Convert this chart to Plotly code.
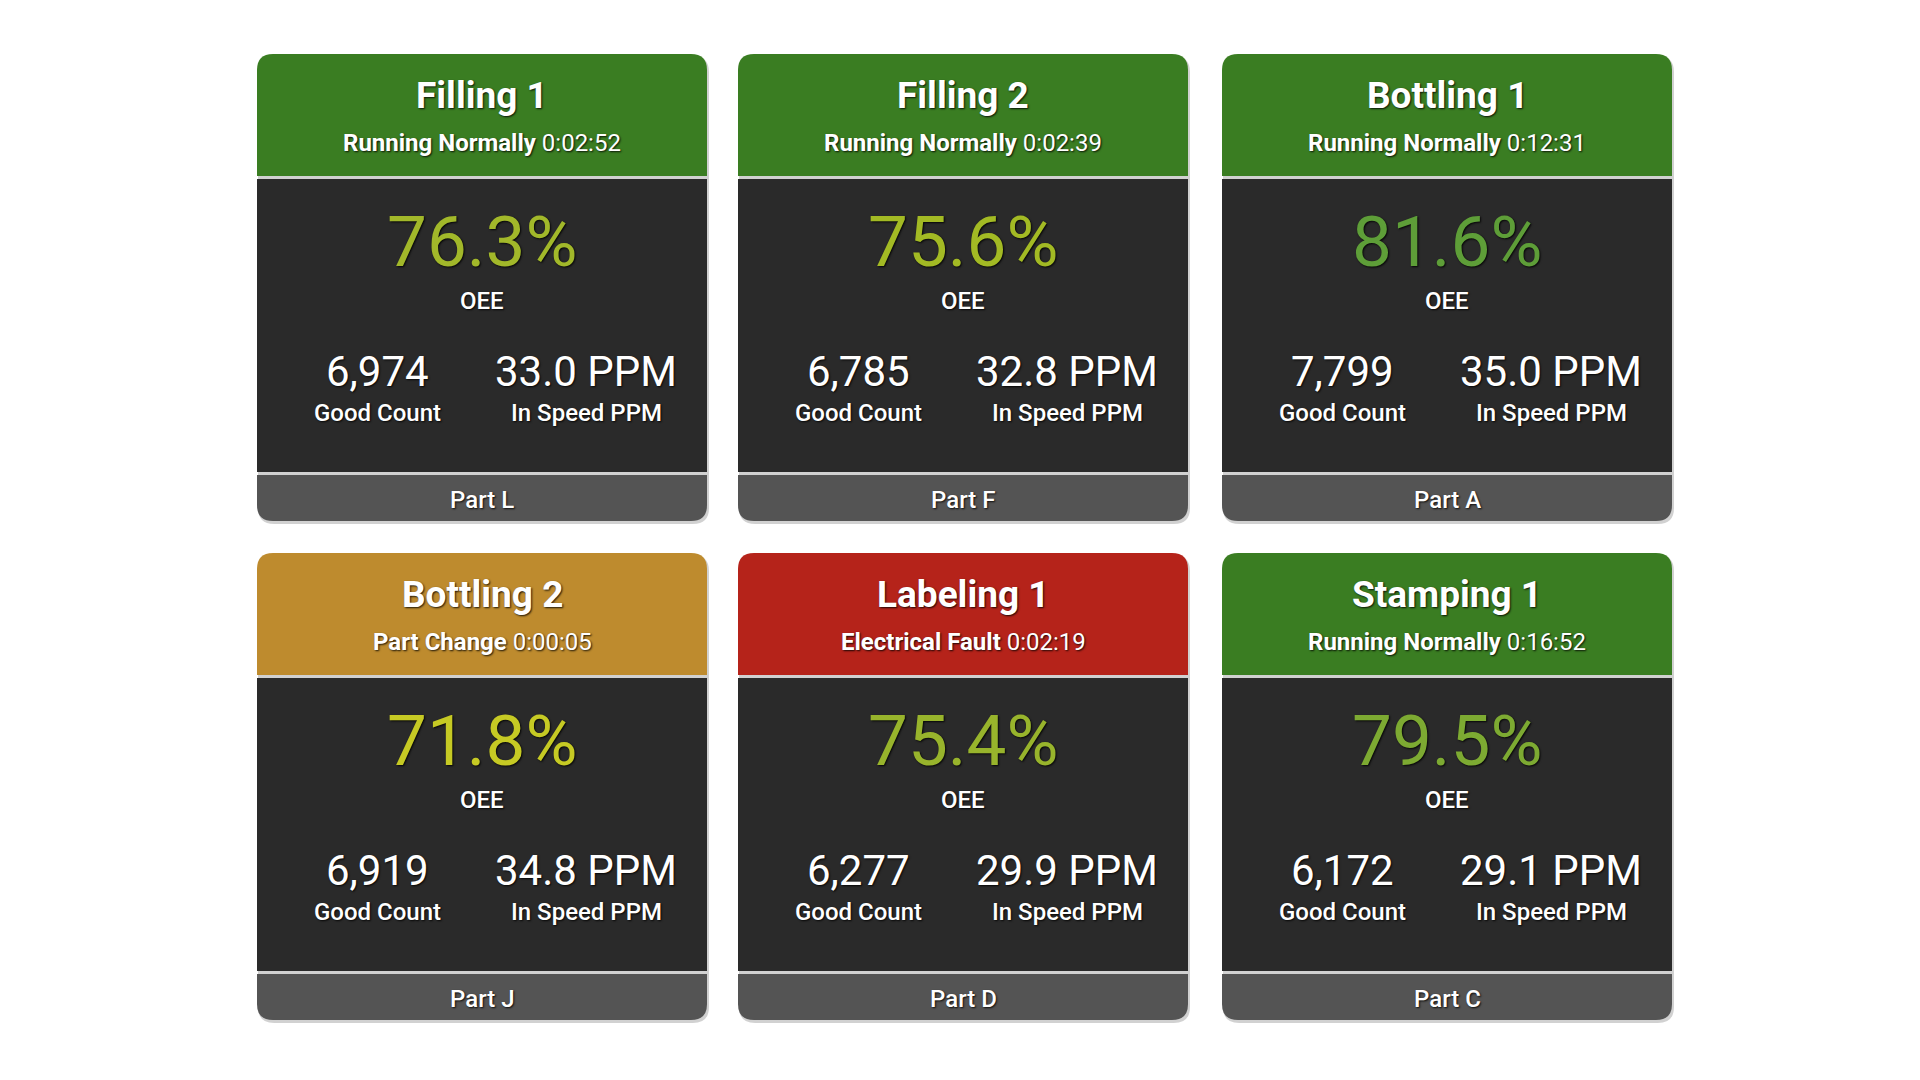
import plotly.graph_objects as go

# ---- data ----
machines = ["Filling 1", "Filling 2", "Bottling 1", "Bottling 2", "Labeling 1", "Stamping 1"]
statuses = ["Running Normally", "Running Normally", "Running Normally",
            "Part Change", "Electrical Fault", "Running Normally"]
durations = ["0:02:52", "0:02:39", "0:12:31", "0:00:05", "0:02:19", "0:16:52"]
oee_pct = [76.3, 75.6, 81.6, 71.8, 75.4, 79.5]
good_counts = [6974, 6785, 7799, 6919, 6277, 6172]
in_speed_ppm = [33.0, 32.8, 35.0, 34.8, 29.9, 29.1]
parts = ["L", "F", "A", "J", "D", "C"]
oee_colors = ["#A2B82A", "#A3BA24", "#5E9E38", "#C6CA24", "#98B42C", "#7DAA32"]

status_colors = {
    "Running Normally": "#3A7D22",
    "Part Change": "#BE8B2E",
    "Electrical Fault": "#B5231A",
}

# ---- layout geometry ----
W, H = 1920, 1080
PAGE_OFFSET = 8  # default body margin of the html page
col_x0 = [257, 738, 1222]
row_y0 = [54, 553]
card_w = 450
header_h = 122
gap = 3
footer_top = 421
card_h = 467
r = 16

BODY = "#2A2A2A"
FOOTER = "#545454"
FONT = "Roboto"
SHADOW = "1px 1px 2px rgba(0,0,0,0.85)"

fig = go.Figure()
shapes = []
annotations = []


def top_round(x0, y0, x1, y1, rad):
    return (f"M {x0},{y1} L {x0},{y0+rad} Q {x0},{y0} {x0+rad},{y0} "
            f"L {x1-rad},{y0} Q {x1},{y0} {x1},{y0+rad} L {x1},{y1} Z")


def bottom_round(x0, y0, x1, y1, rad):
    return (f"M {x0},{y0} L {x1},{y0} L {x1},{y1-rad} Q {x1},{y1} {x1-rad},{y1} "
            f"L {x0+rad},{y1} Q {x0},{y1} {x0},{y1-rad} Z")


def full_round(x0, y0, x1, y1, rad):
    return (f"M {x0+rad},{y0} L {x1-rad},{y0} Q {x1},{y0} {x1},{y0+rad} "
            f"L {x1},{y1-rad} Q {x1},{y1} {x1-rad},{y1} L {x0+rad},{y1} "
            f"Q {x0},{y1} {x0},{y1-rad} L {x0},{y0+rad} Q {x0},{y0} {x0+rad},{y0} Z")


def add_text(x, y, text, size, color="white", weight="normal"):
    annotations.append(dict(
        x=x, y=y, xref="x", yref="y", text=text, showarrow=False,
        xanchor="center", yanchor="middle",
        font=dict(family=FONT, size=size, color=color, weight=weight, shadow=SHADOW),
    ))


for i, name in enumerate(machines):
    x0 = col_x0[i % 3]
    y0 = row_y0[i // 3]
    x1 = x0 + card_w
    cx = x0 + card_w / 2

    # soft shadow
    shapes.append(dict(type="path", xref="x", yref="y", layer="below",
                       path=full_round(x0 + 1, y0 + 2, x1 + 2, y0 + card_h + 3, r),
                       fillcolor="rgba(0,0,0,0.18)", line=dict(width=0)))
    # header
    shapes.append(dict(type="path", xref="x", yref="y", layer="below",
                       path=top_round(x0, y0, x1, y0 + header_h, r),
                       fillcolor=status_colors[statuses[i]], line=dict(width=0)))
    # body
    shapes.append(dict(type="rect", xref="x", yref="y", layer="below",
                       x0=x0, x1=x1, y0=y0 + header_h + gap, y1=y0 + footer_top - gap,
                       fillcolor=BODY, line=dict(width=0)))
    # footer
    shapes.append(dict(type="path", xref="x", yref="y", layer="below",
                       path=bottom_round(x0, y0 + footer_top, x1, y0 + card_h, r),
                       fillcolor=FOOTER, line=dict(width=0)))

    add_text(cx, y0 + 41, f"<b>{name}</b>", 37)
    add_text(cx, y0 + 89, f"<b>{statuses[i]}</b> {durations[i]}", 24)
    add_text(cx, y0 + 187, f"{oee_pct[i]:.1f}%", 71, color=oee_colors[i])
    add_text(cx, y0 + 247, "OEE", 24, weight=500)
    add_text(cx - 105, y0 + 317, f"{good_counts[i]:,}", 42)
    add_text(cx + 104, y0 + 317, f"{in_speed_ppm[i]:.1f} PPM", 42)
    add_text(cx - 105, y0 + 359, "Good Count", 24, weight=500)
    add_text(cx + 104, y0 + 359, "In Speed PPM", 24, weight=500)
    add_text(cx, y0 + 446, f"Part {parts[i]}", 24, weight=500)

fig.update_layout(
    width=W, height=H,
    margin=dict(l=0, r=0, t=0, b=0),
    paper_bgcolor="white", plot_bgcolor="white",
    xaxis=dict(range=[PAGE_OFFSET, W + PAGE_OFFSET], visible=False, fixedrange=True),
    yaxis=dict(range=[H + PAGE_OFFSET, PAGE_OFFSET], visible=False, fixedrange=True),
    shapes=shapes, annotations=annotations, showlegend=False,
)

fig.write_html("out.html")
